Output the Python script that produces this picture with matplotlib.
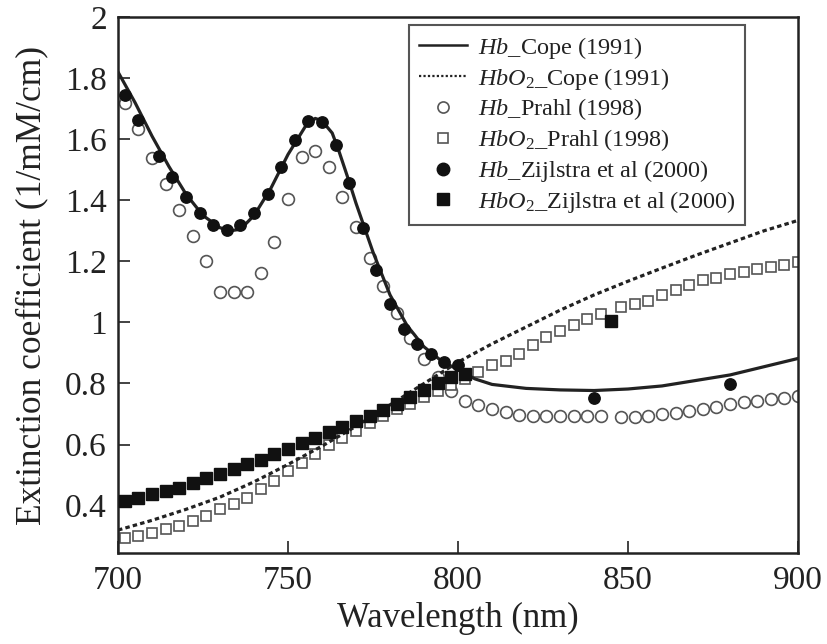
import numpy as np
import matplotlib
matplotlib.use("Agg")
import matplotlib.pyplot as plt
from matplotlib.lines import Line2D

plt.rcParams['font.family'] = ['Liberation Serif', 'DejaVu Serif']
plt.rcParams['mathtext.fontset'] = 'custom'
plt.rcParams['mathtext.rm'] = 'Liberation Serif'
plt.rcParams['mathtext.it'] = 'Liberation Serif:italic'

# Hb / HbO2 Cope (1991), lines
cope_wl = [700, 705, 710, 715, 720, 725, 730, 733, 736, 740, 745, 750, 755, 758, 760, 763,
           765, 768, 770, 775, 780, 785, 790, 795, 800, 805, 810, 820, 830, 840, 850, 860,
           870, 880, 890, 900]
cope_hb = [1.82, 1.72, 1.61, 1.51, 1.42, 1.35, 1.31, 1.30, 1.305, 1.35, 1.44, 1.55, 1.64,
           1.668, 1.66, 1.62, 1.56, 1.46, 1.39, 1.23, 1.09, 0.99, 0.92, 0.875, 0.845, 0.815,
           0.797, 0.784, 0.779, 0.777, 0.782, 0.792, 0.81, 0.828, 0.855, 0.882]
cope_wl2 = [700, 710, 720, 730, 740, 750, 760, 770, 780, 790, 800, 810, 820, 830, 840, 850,
            860, 870, 880, 890, 900]
cope_hbo2 = [0.32, 0.352, 0.388, 0.428, 0.478, 0.535, 0.595, 0.66, 0.73, 0.80, 0.87, 0.93,
             0.985, 1.04, 1.09, 1.135, 1.178, 1.22, 1.26, 1.30, 1.334]

# Prahl (1998), open markers
prahl_wl = [702, 706, 710, 714, 718, 722, 726, 730, 734, 738, 742, 746, 750, 754, 758, 762,
            766, 770, 774, 778, 782, 786, 790, 794, 798, 802, 806, 810, 814, 818, 822, 826,
            830, 834, 838, 842, 848, 852, 856, 860, 864, 868, 872, 876, 880, 884, 888, 892,
            896, 900]
prahl_hb = [1.72, 1.633, 1.538, 1.452, 1.367, 1.282, 1.20, 1.098, 1.098, 1.098, 1.161, 1.262,
            1.403, 1.541, 1.561, 1.508, 1.41, 1.311, 1.21, 1.12, 1.03, 0.95, 0.88, 0.82,
            0.777, 0.744, 0.728, 0.717, 0.706, 0.697, 0.694, 0.692, 0.692, 0.692, 0.692, 0.692,
            0.69, 0.69, 0.695, 0.70, 0.705, 0.711, 0.716, 0.724, 0.733, 0.738, 0.744, 0.749,
            0.754, 0.76]
prahl_hbo2 = [0.295, 0.302, 0.311, 0.324, 0.334, 0.351, 0.367, 0.39, 0.405, 0.426, 0.456,
              0.482, 0.515, 0.541, 0.57, 0.597, 0.623, 0.646, 0.672, 0.695, 0.715, 0.734,
              0.757, 0.775, 0.795, 0.815, 0.837, 0.859, 0.875, 0.897, 0.925, 0.952, 0.971,
              0.993, 1.012, 1.029, 1.05, 1.061, 1.07, 1.089, 1.105, 1.121, 1.138, 1.147,
              1.157, 1.165, 1.176, 1.181, 1.187, 1.198]

# Zijlstra et al (2000), filled markers
zij_wl = [702, 706, 712, 716, 720, 724, 728, 732, 736, 740, 744, 748, 752, 756, 760, 764,
          768, 772, 776, 780, 784, 788, 792, 796, 800, 840, 880]
zij_hb = [1.744, 1.662, 1.544, 1.475, 1.41, 1.357, 1.318, 1.302, 1.318, 1.357, 1.42, 1.508,
          1.597, 1.659, 1.656, 1.58, 1.456, 1.31, 1.17, 1.06, 0.98, 0.93, 0.895, 0.87, 0.859,
          0.754, 0.797]
zij_wl2 = [702, 706, 710, 714, 718, 722, 726, 730, 734, 738, 742, 746, 750, 754, 758, 762,
           766, 770, 774, 778, 782, 786, 790, 794, 798, 802, 845]
zij_hbo2 = [0.416, 0.426, 0.438, 0.449, 0.459, 0.475, 0.49, 0.505, 0.52, 0.537, 0.55, 0.57,
            0.587, 0.604, 0.623, 0.64, 0.659, 0.678, 0.695, 0.712, 0.734, 0.757, 0.778, 0.80,
            0.82, 0.83, 1.003]

labels = [r'$\mathit{Hb}$_Cope (1991)',
          r'$\mathit{HbO}_{\mathit{2}}$_Cope (1991)',
          r'$\mathit{Hb}$_Prahl (1998)',
          r'$\mathit{HbO}_{\mathit{2}}$_Prahl (1998)',
          r'$\mathit{Hb}$_Zijlstra et al (2000)',
          r'$\mathit{HbO}_{\mathit{2}}$_Zijlstra et al (2000)']

ink = '#222222'
grey = '#555555'

fig = plt.figure(figsize=(8.27, 6.44), dpi=100)
ax = fig.add_axes([0.1427, 0.1413, 0.8223, 0.8323])

ax.plot(cope_wl, cope_hb, color=ink, lw=2.3, zorder=3)
ax.plot(cope_wl2, cope_hbo2, color=ink, lw=2.3, ls=(0, (1.4, 1.0)), zorder=3)
ax.plot(prahl_wl, prahl_hb, 'o', ms=8.5, mfc='white', mec=grey, mew=1.2, zorder=2)
ax.plot(prahl_wl, prahl_hbo2, 's', ms=7.5, mfc='white', mec=grey, mew=1.2, zorder=2)
ax.plot(zij_wl, zij_hb, 'o', ms=8.2, color='#111111', zorder=4)
ax.plot(zij_wl2, zij_hbo2, 's', ms=8, color='#111111', zorder=4)

ax.set_xlim(700, 900)
ax.set_ylim(0.245, 2.0)
ax.set_xticks([700, 750, 800, 850, 900])
ax.set_yticks([0.4, 0.6, 0.8, 1.0, 1.2, 1.4, 1.6, 1.8, 2.0])
ax.set_yticklabels(['0.4', '0.6', '0.8', '1', '1.2', '1.4', '1.6', '1.8', '2'])
ax.tick_params(direction='in', length=8.5, width=1.2, labelsize=24, colors=ink)
ax.tick_params(axis='x', pad=9)
ax.tick_params(axis='y', pad=8)
for s in ax.spines.values():
    s.set_linewidth(1.8)
    s.set_color(ink)

ax.set_xlabel('Wavelength (nm)', fontsize=25, color=ink, labelpad=4)
ax.set_ylabel('Extinction coefficient (1/mM/cm)', fontsize=25.5, color=ink, labelpad=12)

handles = [Line2D([], [], color=ink, lw=1.8),
           Line2D([], [], color=ink, lw=1.6, ls=(0, (1, 1))),
           Line2D([], [], ls='none', marker='o', ms=8, mfc='white', mec=grey, mew=1.2),
           Line2D([], [], ls='none', marker='s', ms=7, mfc='white', mec=grey, mew=1.2),
           Line2D([], [], ls='none', marker='o', ms=9, color='#111111'),
           Line2D([], [], ls='none', marker='s', ms=8, color='#111111')]
leg = ax.legend(handles, labels, loc='upper left', bbox_to_anchor=(0.428, 0.985),
                borderaxespad=0, fontsize=17.5, frameon=True, fancybox=False,
                handlelength=2.0, handletextpad=0.45, labelspacing=0.2,
                borderpad=0.4, framealpha=1)
leg.get_frame().set_edgecolor(grey)
leg.get_frame().set_linewidth(1.5)
for t in leg.get_texts():
    t.set_color(ink)

fig.savefig('out.png', dpi=100)
